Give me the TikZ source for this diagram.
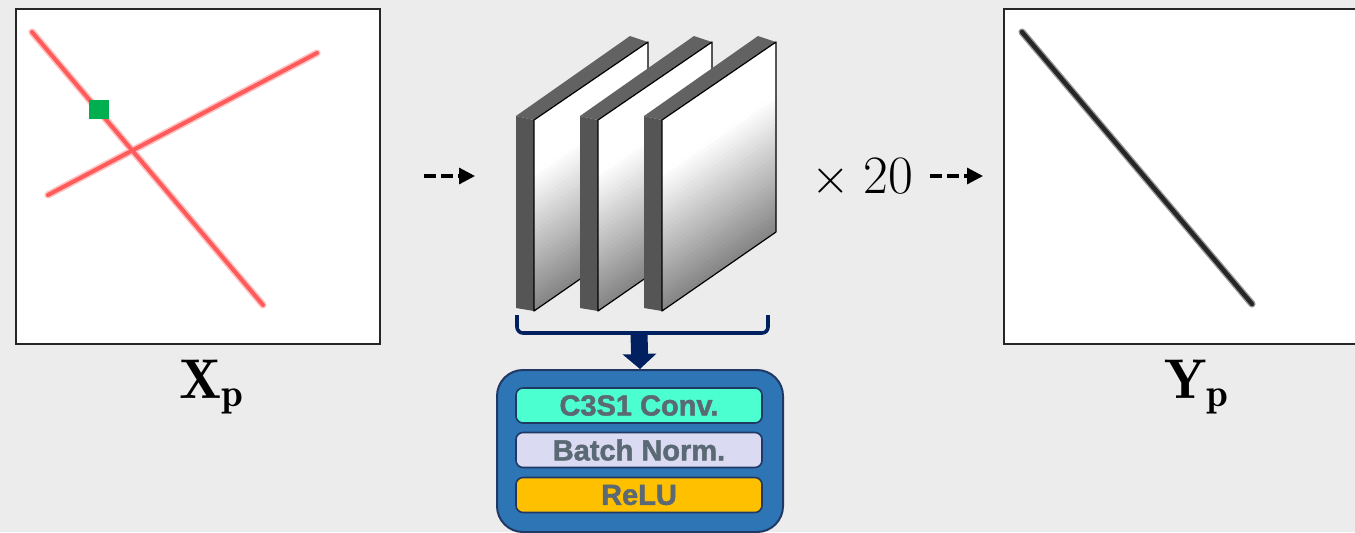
\documentclass[tikz,border=0pt]{standalone}
\usepackage{fontspec}
\newfontfamily\blocksans{Liberation Sans}[BoldFeatures={FakeBold=1.6}]
\usetikzlibrary{arrows.meta,calc}
\definecolor{bgc}{RGB}{236,236,236}
\definecolor{navy}{RGB}{0,32,96}
\definecolor{blockblue}{RGB}{46,117,182}
\definecolor{blockedge}{RGB}{31,56,100}
\definecolor{convc}{RGB}{75,255,208}
\definecolor{bnc}{RGB}{218,218,243}
\definecolor{reluc}{RGB}{255,192,0}
\definecolor{txtc}{RGB}{90,105,115}
\definecolor{redl}{RGB}{255,50,50}
\definecolor{sidec}{RGB}{85,85,85}
\definecolor{topc}{RGB}{98,98,98}
\definecolor{greenc}{RGB}{0,176,80}
\tikzset{
  imgbox/.style={draw=black!85, line width=1.2pt, fill=white, inner sep=0pt, anchor=north west},
  dasharrow/.style={line width=1.6pt, dash pattern=on 6pt off 2.5pt, -{Triangle[length=8pt,width=8pt]}},
  layerbox/.style={draw=blockedge, line width=0.8pt, rounded corners=3.5pt, minimum width=123pt, minimum height=17.5pt, inner sep=0pt, font=\blocksans\bfseries\fontsize{14.5}{16}\selectfont, text=txtc},
  outerblock/.style={draw=blockedge, line width=1pt, fill=blockblue, rounded corners=13pt, minimum width=143pt, minimum height=81pt, inner sep=0pt, anchor=north west},
  lbl/.style={font=\fontsize{28}{30}\selectfont, inner sep=0pt},
  redline/.style={line cap=round, line width=3.6pt, draw=redl!30},
  redcore/.style={line cap=round, line width=2.0pt, draw=redl!80},
  darkline/.style={line cap=round, line width=3.6pt, draw=black!40},
  darkcore/.style={line cap=round, line width=2.2pt, draw=black!85},
}
\begin{document}
\begin{tikzpicture}[x=0.5pt,y=-0.5pt]
\clip (0,0) rectangle (1355,532);
\fill[bgc] (0,0) rectangle (1355,532);

% input image
\node[imgbox, minimum width=182pt, minimum height=167.5pt] (xp) at (15,8) {};
\coordinate (r1a) at (32,32); \coordinate (r1b) at (263,305);
\coordinate (r2a) at (48,195); \coordinate (r2b) at (317,53);
\draw[redline] (r1a) -- (r1b); \draw[redline] (r2a) -- (r2b);
\draw[redcore] (r1a) -- (r1b); \draw[redcore] (r2a) -- (r2b);
\node[fill=greenc, minimum width=10pt, minimum height=9.5pt, inner sep=0pt, anchor=north west] (pix) at (89,100) {};
\node[lbl] (xlab) at (212,387) {$\mathbf{X}_{\mathbf{p}}$};

% output image
\node[imgbox, minimum width=200pt, minimum height=167.5pt] (yp) at (1003,8) {};
\coordinate (d1a) at (1022,32); \coordinate (d1b) at (1252,304);
\draw[darkline] (d1a) -- (d1b);
\draw[darkcore] (d1a) -- (d1b);
\node[lbl] (ylab) at (1197,387) {$\mathbf{Y}_{\mathbf{p}}$};

% arrows
\coordinate (a1s) at (424,176); \coordinate (a1e) at (475,176);
\draw[dasharrow] (a1s) -- (a1e);
\node[font=\fontsize{27}{30}\selectfont, inner sep=0pt] (times) at (862,178) {$\times$\hspace{0.25em}20};
\coordinate (a2s) at (930,176); \coordinate (a2e) at (983,176);
\draw[dasharrow] (a2s) -- (a2e);

% slabs
\foreach \dx in {0,64,128}{
  \begin{scope}[xshift=\dx*0.5pt]
    % side face
    \fill[sidec] (516,116) -- (534,120) -- (534,311) -- (516,308) -- cycle;
    % top face
    \fill[topc] (516,116) -- (630,36) -- (648,42) -- (534,120) -- cycle;
    % front face: sheared gradient strips
    \foreach \i in {0,...,39}{
      \pgfmathsetmacro\ta{\i/40}
      \pgfmathsetmacro\tb{(\i+1.15)/40}
      \pgfmathsetmacro\tm{(\i+0.5)/40}
      \pgfmathsetmacro\cv{max(0,(\tm-0.28)/0.72)*48}
      \fill[black!\cv!white] (534,{120+191*\ta}) -- (648,{42+190*\ta}) -- (648,{42+190*min(1,\tb)}) -- (534,{120+191*min(1,\tb)}) -- cycle;
    }
    \draw[black, line width=0.6pt, line join=round] (534,120) -- (648,42) -- (648,232) -- (534,311) -- cycle;
  \end{scope}
}

% bracket
\coordinate (bl) at (517,315); \coordinate (br) at (768,315);
\coordinate (bmid) at (639,334);
\draw[navy, line width=1.8pt, rounded corners=3pt] (bl) -- (517,333) -- (768,333) -- (br);

% block
\node[outerblock] (block) at (496,369) {};
\node[layerbox, fill=convc] (conv) at (639,405.5) {C3S1 Conv.};
\node[layerbox, fill=bnc] (bn) at (639,450) {Batch Norm.};
\node[layerbox, fill=reluc] (relu) at (639,495) {ReLU};

\draw[navy, line width=8.5pt, -{Triangle[length=7.5pt,width=16.5pt]}] (bmid) -- (block.north);
\end{tikzpicture}
\end{document}
